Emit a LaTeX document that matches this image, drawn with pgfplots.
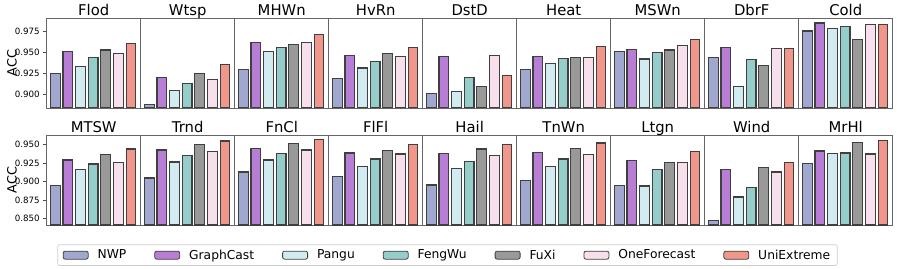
\documentclass[border=0pt]{standalone}
\usepackage{pgfplots}
\usepackage{pgfplotstable}
\pgfplotsset{compat=1.18}
\usepackage{fontspec}
\setmainfont{DejaVu Sans}

\definecolor{cNWP}{HTML}{A0A8D0}
\definecolor{cGC}{HTML}{B87ED6}
\definecolor{cPG}{HTML}{D2EBF0}
\definecolor{cFW}{HTML}{95CDCA}
\definecolor{cFX}{HTML}{999999}
\definecolor{cOF}{HTML}{F7E0EC}
\definecolor{cUE}{HTML}{F0968A}

\pgfplotstableread{
x Flod Wtsp MHWn HvRn DstD Heat MSWn DbrF Cold MTSW Trnd FnCl FlFl Hail TnWn Ltgn Wind MrHl
0 0.9246 0.8873 0.9294 0.9187 0.9008 0.9290 0.9508 0.9440 0.9750 0.8944 0.9047 0.9128 0.9065 0.8953 0.9016 0.8949 0.8470 0.9245
1 0.9504 0.9202 0.9619 0.9460 0.9452 0.9452 0.9528 0.9551 0.9845 0.9289 0.9423 0.9441 0.9383 0.9374 0.9387 0.9280 0.9164 0.9410
2 0.9330 0.9040 0.9504 0.9310 0.9032 0.9360 0.9417 0.9087 0.9778 0.9164 0.9262 0.9289 0.9199 0.9172 0.9199 0.8940 0.8792 0.9379
3 0.9437 0.9130 0.9550 0.9389 0.9202 0.9425 0.9500 0.9413 0.9802 0.9235 0.9347 0.9379 0.9302 0.9266 0.9302 0.9164 0.8922 0.9383
4 0.9524 0.9242 0.9587 0.9488 0.9095 0.9440 0.9524 0.9345 0.9651 0.9366 0.9500 0.9513 0.9419 0.9437 0.9446 0.9258 0.9186 0.9522
5 0.9488 0.9170 0.9610 0.9444 0.9460 0.9437 0.9575 0.9544 0.9833 0.9258 0.9401 0.9423 0.9370 0.9347 0.9365 0.9253 0.9128 0.9370
6 0.9603 0.9353 0.9711 0.9556 0.9218 0.9563 0.9647 0.9544 0.9833 0.9437 0.9544 0.9567 0.9500 0.9500 0.9517 0.9400 0.9258 0.9548
}\datatab

\pgfplotscreateplotcyclelist{methods}{%
fill=cNWP\\fill=cGC\\fill=cPG\\fill=cFW\\fill=cFX\\fill=cOF\\fill=cUE\\}

\pgfplotsset{
  swatch/.style={legend image code/.code={\draw[##1,line width=0.8pt] (0pt,-4pt) rectangle (25pt,4pt);}},
  panel/.style={
    scale only axis, width=94pt, height=90pt, anchor=south west,
    xmin=-0.68, xmax=6.77, xtick=\empty, ytick=\empty,
    axis line style={draw=black!60, line width=0.7pt},
    every axis title shift=0pt,
    title style={font=\fontsize{14.8}{16}\selectfont, anchor=base, at={(axis description cs:0.5,1)}, yshift=2.5pt},
    cycle list name=methods,
    every axis plot/.append style={ybar, bar width=0.77, bar shift=0pt, draw=black!75, line width=1.1pt},
  },
  toprow/.style={ymin=0.8835, ymax=0.9905},
  botrow/.style={ymin=0.8415, ymax=0.9625},
  firstcol/.style={
    ylabel={ACC},
    every axis y label/.style={at={(axis description cs:-0.37,0.5)}, rotate=90, anchor=center, font=\fontsize{12.8}{14}\selectfont},
    yticklabel style={font=\fontsize{8.7}{10}\selectfont},
    /pgf/number format/.cd, fixed, fixed zerofill, precision=3, assume math mode=true, /pgfplots/.cd,
    tick align=outside, ytick pos=left, major tick length=3.5pt,
    tick style={draw=black!70, line width=0.7pt},
  },
}

% #1 column index, #2 y of south edge, #3 row style, #4 event, #5 extra options
\newcommand\panel[5]{%
  \begin{axis}[panel,#3,at={({46.7pt+#1*94pt},#2)},title={#4},#5]
    \pgfplotsinvokeforeach{0,1,2,3,4,5,6}{%
      \addplot table[x=x,y=#4,restrict expr to domain={\coordindex}{##1:##1}]{\datatab};}
  \end{axis}}

\begin{document}
\begin{tikzpicture}
\path[use as bounding box] (0,0) rectangle (897pt,268pt);
\panel{0}{160pt}{toprow}{Flod}{firstcol, ytick={0.900,0.925,0.950,0.975}}
\panel{1}{160pt}{toprow}{Wtsp}{}
\panel{2}{160pt}{toprow}{MHWn}{}
\panel{3}{160pt}{toprow}{HvRn}{}
\panel{4}{160pt}{toprow}{DstD}{}
\panel{5}{160pt}{toprow}{Heat}{}
\panel{6}{160pt}{toprow}{MSWn}{}
\panel{7}{160pt}{toprow}{DbrF}{}
\panel{8}{160pt}{toprow}{Cold}{}
\panel{0}{43pt}{botrow}{MTSW}{firstcol, ytick={0.850,0.875,0.900,0.925,0.950},
  every axis plot post/.append style={swatch},
  legend entries={NWP,GraphCast,Pangu,FengWu,FuXi,OneForecast,UniExtreme},
  legend columns=7,
  legend style={at={(axis description cs:4.2638,-0.335)}, anchor=center,
    draw=black!20, line width=0.7pt, rounded corners=2pt, fill=white,
    font=\fontsize{12.3}{14}\selectfont, inner xsep=5pt, inner ysep=3pt,
    /tikz/every even column/.append style={column sep=26pt},
    /tikz/every odd column/.append style={column sep=7pt}}}
\panel{1}{43pt}{botrow}{Trnd}{}
\panel{2}{43pt}{botrow}{FnCl}{}
\panel{3}{43pt}{botrow}{FlFl}{}
\panel{4}{43pt}{botrow}{Hail}{}
\panel{5}{43pt}{botrow}{TnWn}{}
\panel{6}{43pt}{botrow}{Ltgn}{}
\panel{7}{43pt}{botrow}{Wind}{}
\panel{8}{43pt}{botrow}{MrHl}{}
\end{tikzpicture}
\end{document}
